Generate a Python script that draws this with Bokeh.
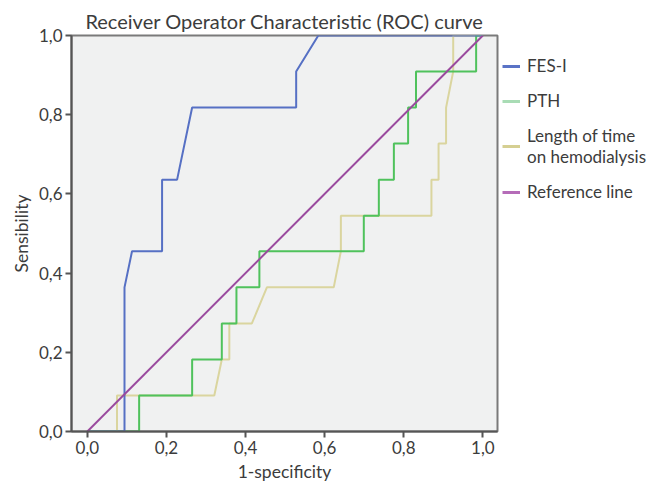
from bokeh.plotting import figure
from bokeh.models import Range1d, FixedTicker, Legend, LegendItem
from bokeh.embed import file_html
from bokeh.resources import INLINE

# ROC curve points (x = 1-specificity, y = sensitivity)
fes_x = [0.0, 0.094, 0.094, 0.113, 0.189, 0.189, 0.227, 0.265, 0.528, 0.528, 0.584, 1.0]
fes_y = [0.0, 0.0, 0.364, 0.455, 0.455, 0.636, 0.636, 0.818, 0.818, 0.909, 1.0, 1.0]

pth_x = [0.0, 0.131, 0.131, 0.265, 0.265, 0.34, 0.34, 0.377, 0.377, 0.435, 0.435, 0.699,
         0.699, 0.737, 0.737, 0.775, 0.775, 0.811, 0.811, 0.831, 0.831, 0.983, 0.983, 1.0]
pth_y = [0.0, 0.0, 0.091, 0.091, 0.182, 0.182, 0.273, 0.273, 0.364, 0.364, 0.455, 0.455,
         0.545, 0.545, 0.636, 0.636, 0.727, 0.727, 0.818, 0.818, 0.909, 0.909, 1.0, 1.0]

len_x = [0.0, 0.075, 0.075, 0.321, 0.34, 0.359, 0.359, 0.416, 0.454, 0.623, 0.641, 0.641,
         0.87, 0.87, 0.888, 0.888, 0.907, 0.907, 0.925, 0.925, 1.0]
len_y = [0.0, 0.0, 0.091, 0.091, 0.182, 0.182, 0.273, 0.273, 0.364, 0.364, 0.455, 0.545,
         0.545, 0.636, 0.636, 0.727, 0.727, 0.818, 0.909, 1.0, 1.0]

ref_x = [0.0, 1.0]
ref_y = [0.0, 1.0]

tick_values = [0.0, 0.2, 0.4, 0.6, 0.8, 1.0]
tick_labels = ["0,0", "0,2", "0,4", "0,6", "0,8", "1,0"]

series_names = ["FES-I", "PTH", "Length of time\non hemodialysis", "Reference line"]
line_colors = ["#5670c4", "#4fc25c", "#dad59f", "#9a4a9e"]
swatch_colors = ["#5a73c6", "#a9dcb5", "#d5cf92", "#b56cb8"]

FONT = "Lato"
TXT = "#3c3c3c"

p = figure(frame_width=426, frame_height=396, output_backend="svg", toolbar_location=None,
           x_range=Range1d(-0.04, 1.037), y_range=Range1d(0.0, 1.0),
           min_border_left=71, min_border_right=0, min_border_top=35, min_border_bottom=51,
           title="Receiver Operator Characteristic (ROC) curve")

p.background_fill_color = "#f0f1f1"
p.border_fill_color = "white"
p.outline_line_color = "#7a7a7a"
p.outline_line_width = 2
p.grid.visible = False

p.title.text_font = FONT
p.title.text_font_size = "20px"
p.title.text_font_style = "normal"
p.title.text_color = TXT
p.title.align = "center"
p.title.offset = 0
p.title.standoff = 6

for ax in (p.xaxis[0], p.yaxis[0]):
    ax.ticker = FixedTicker(ticks=tick_values)
    ax.major_label_overrides = dict(zip(tick_values, tick_labels))
    ax.axis_line_color = "#555555"
    ax.axis_line_width = 2
    ax.major_tick_line_color = "#555555"
    ax.major_tick_line_width = 2
    ax.major_tick_in = 0
    ax.major_tick_out = 6
    ax.minor_tick_line_color = None
    ax.major_label_text_font = FONT
    ax.major_label_text_font_size = "17px"
    ax.major_label_text_color = TXT
    ax.axis_label_text_font = FONT
    ax.axis_label_text_font_size = "17.5px"
    ax.axis_label_text_font_style = "normal"
    ax.axis_label_text_color = TXT
    ax.major_label_standoff = 3
    ax.axis_label_standoff = 4

p.xaxis.axis_label = "1-specificity"
p.yaxis.axis_label = "Sensibility"

# draw curves
p.line(len_x, len_y, line_color=line_colors[2], line_width=2)
p.line(pth_x, pth_y, line_color=line_colors[1], line_width=2)
p.line(fes_x, fes_y, line_color=line_colors[0], line_width=2)
p.line(ref_x, ref_y, line_color=line_colors[3], line_width=2)

# legend swatches: renderers placed outside the visible range so only the swatch shows
items = []
for name, col in zip(series_names, swatch_colors):
    r = p.line([-5.0, -4.0], [-5.0, -5.0], line_color=col, line_width=3)
    items.append(LegendItem(label=name, renderers=[r]))

legend = Legend(items=items, location="top_left")
legend.title = " "
legend.title_text_font_size = "8px"
legend.title_standoff = 6
legend.background_fill_alpha = 0
legend.border_line_alpha = 0
legend.padding = 0
legend.margin = 5
legend.spacing = 14
legend.glyph_width = 18
legend.glyph_height = 20
legend.label_standoff = 7
legend.label_text_font = FONT
legend.label_text_font_size = "17px"
legend.label_text_color = TXT
p.add_layout(legend, "right")

open("out.html", "w").write(file_html(p, INLINE))
